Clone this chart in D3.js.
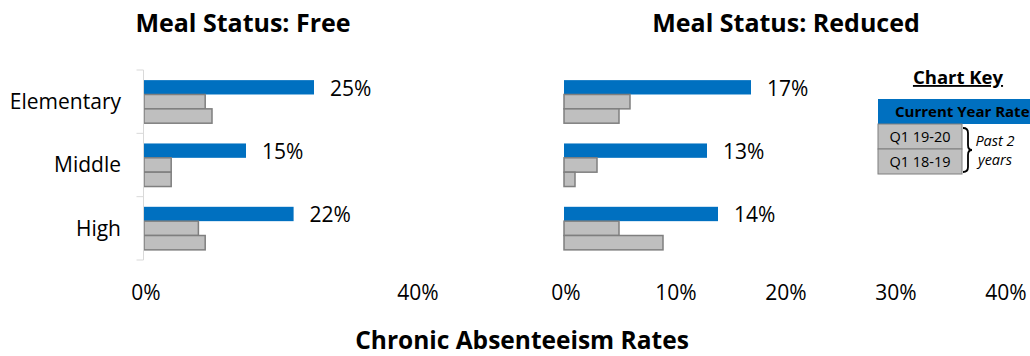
<!DOCTYPE html>
<html>
<head>
<meta charset="utf-8">
<script src="https://d3js.org/d3.v7.min.js"></script>
<style>
    body { margin: 0; background: #fff; }
    svg { font-family: "Open Sans", sans-serif; }
    .catLabel, .valLabel, .tickLabel { font-size: 21px; fill: #000; }
    .title { font-size: 25px; font-weight: bold; }
</style>
</head>
<body>
<svg id="chart" width="1030" height="356"></svg>
<script>
    // categories and series
    const categories = ["Elementary", "Middle", "High"];
    const seriesNames = ["Current Year Rate", "Q1 19-20", "Q1 18-19"];

    // Meal Status: Free (percent)
    const freeCurrent = [25, 15, 22];
    const freeQ1920 = [9, 4, 8];
    const freeQ1819 = [10, 4, 9];

    // Meal Status: Reduced (percent)
    const reducedCurrent = [17, 13, 14];
    const reducedQ1920 = [6, 3, 5];
    const reducedQ1819 = [5, 1, 9];

    // tick labels
    const freeTicks = [0, 40];
    const reducedTicks = [0, 10, 20, 30, 40];

    const blue = "#0070C0",
        gray = "#BFBFBF",
        grayLine = "#7F7F7F";

    const svg = d3.select("#chart");

    // shared vertical scale
    const y = d3.scaleBand()
        .domain(categories)
        .range([70, 260])
        .paddingInner(0.32)
        .paddingOuter(0.16);
    const ySub = d3.scaleBand()
        .domain(seriesNames)
        .range([0, y.bandwidth()]);

    function drawPanel(opts) {
        const x = d3.scaleLinear().domain([0, 40]).range(opts.range);
        const g = svg.append("g");

        const rows = categories.map(function(c, i) {
            return {
                cat: c,
                values: [opts.current[i], opts.q1920[i], opts.q1819[i]]
            };
        });

        const grp = g.selectAll(".cat")
            .data(rows)
            .join("g")
            .attr("class", "cat")
            .attr("transform", d => "translate(0," + y(d.cat) + ")");

        grp.selectAll("rect")
            .data(d => d.values.map((v, j) => ({ s: seriesNames[j], v: v })))
            .join("rect")
            .attr("x", x(0))
            .attr("y", d => ySub(d.s))
            .attr("width", d => x(d.v) - x(0))
            .attr("height", ySub.bandwidth())
            .attr("fill", (d, j) => j == 0 ? blue : gray)
            .attr("stroke", (d, j) => j == 0 ? "none" : grayLine)
            .attr("stroke-width", 1.5);

        // value labels on the current year bars
        grp.append("text")
            .attr("class", "valLabel")
            .attr("x", d => x(d.values[0]) + 16)
            .attr("y", ySub(seriesNames[0]) + ySub.bandwidth() / 2 + 1)
            .attr("dy", "0.35em")
            .text(d => d.values[0] + "%");

        // bottom tick labels (no axis line)
        g.selectAll(".tickLabel")
            .data(opts.ticks)
            .join("text")
            .attr("class", "tickLabel")
            .attr("x", d => x(d) + 2)
            .attr("y", 293)
            .attr("dy", "0.35em")
            .attr("text-anchor", "middle")
            .text(d => d + "%");

        svg.append("text")
            .attr("class", "title")
            .attr("x", opts.titleX)
            .attr("y", 32)
            .attr("text-anchor", "middle")
            .text(opts.title);

        return x;
    }

    const xFree = drawPanel({
        range: [144, 416],
        current: freeCurrent,
        q1920: freeQ1920,
        q1819: freeQ1819,
        ticks: freeTicks,
        title: "Meal Status: Free",
        titleX: 243
    });

    drawPanel({
        range: [564, 1004],
        current: reducedCurrent,
        q1920: reducedQ1920,
        q1819: reducedQ1819,
        ticks: reducedTicks,
        title: "Meal Status: Reduced",
        titleX: 786
    });

    // category axis on the left panel
    const yAxis = svg.append("g")
        .attr("transform", "translate(" + (xFree(0) - 0.5) + ",0)");
    yAxis.append("line")
        .attr("y1", y.range()[0])
        .attr("y2", y.range()[1])
        .attr("stroke", "#D9D9D9");
    const edges = categories.map(c => y(c) - y.step() * y.paddingInner() / 2);
    edges[0] = y.range()[0];
    edges.push(y.range()[1]);
    yAxis.selectAll(".tk")
        .data(edges)
        .join("line")
        .attr("class", "tk")
        .attr("x1", -7)
        .attr("x2", 0)
        .attr("y1", d => d)
        .attr("y2", d => d)
        .attr("stroke", "#D9D9D9");

    svg.selectAll(".catLabel")
        .data(categories)
        .join("text")
        .attr("class", "catLabel")
        .attr("x", 121)
        .attr("y", d => y(d) + y.bandwidth() / 2)
        .attr("dy", "0.35em")
        .attr("text-anchor", "end")
        .text(d => d);

    // axis title
    svg.append("text")
        .attr("class", "title")
        .attr("x", 522)
        .attr("y", 349)
        .attr("font-size", 24.5)
        .attr("text-anchor", "middle")
        .style("font-size", "24.5px")
        .text("Chronic Absenteeism Rates");

    // chart key
    const key = svg.append("g");
    key.append("text")
        .attr("x", 958)
        .attr("y", 84)
        .attr("text-anchor", "middle")
        .attr("font-size", 18.5)
        .attr("font-weight", "bold")
        .attr("text-decoration", "underline")
        .text("Chart Key");
    key.append("rect")
        .attr("x", 878).attr("y", 99)
        .attr("width", 160).attr("height", 25)
        .attr("fill", blue);
    key.append("text")
        .attr("x", 895).attr("y", 111.5)
        .attr("dy", "0.35em")
        .attr("font-size", 15)
        .attr("font-weight", "bold")
        .text(seriesNames[0]);
    key.selectAll(".keyRow")
        .data(seriesNames.slice(1))
        .join("g")
        .attr("class", "keyRow")
        .attr("transform", (d, i) => "translate(878," + (124 + i * 25) + ")")
        .each(function(d) {
            const r = d3.select(this);
            r.append("rect")
                .attr("width", 84).attr("height", 25)
                .attr("fill", gray)
                .attr("stroke", grayLine)
                .attr("stroke-width", 1);
            r.append("text")
                .attr("x", 42).attr("y", 12.5)
                .attr("dy", "0.35em")
                .attr("text-anchor", "middle")
                .attr("font-size", 14.5)
                .text(d);
        });
    key.append("path")
        .attr("d", "M963,128 Q968,128 968,133 L968,145 Q968,150 972,150 Q968,150 968,155 L968,167 Q968,172 963,172")
        .attr("fill", "none")
        .attr("stroke", "#000")
        .attr("stroke-width", 1.8);
    key.append("text")
        .attr("x", 995).attr("y", 146)
        .attr("text-anchor", "middle")
        .attr("font-size", 14.5)
        .attr("font-style", "italic")
        .text("Past 2");
    key.append("text")
        .attr("x", 995).attr("y", 165)
        .attr("text-anchor", "middle")
        .attr("font-size", 14.5)
        .attr("font-style", "italic")
        .text("years");
</script>
</body>
</html>
